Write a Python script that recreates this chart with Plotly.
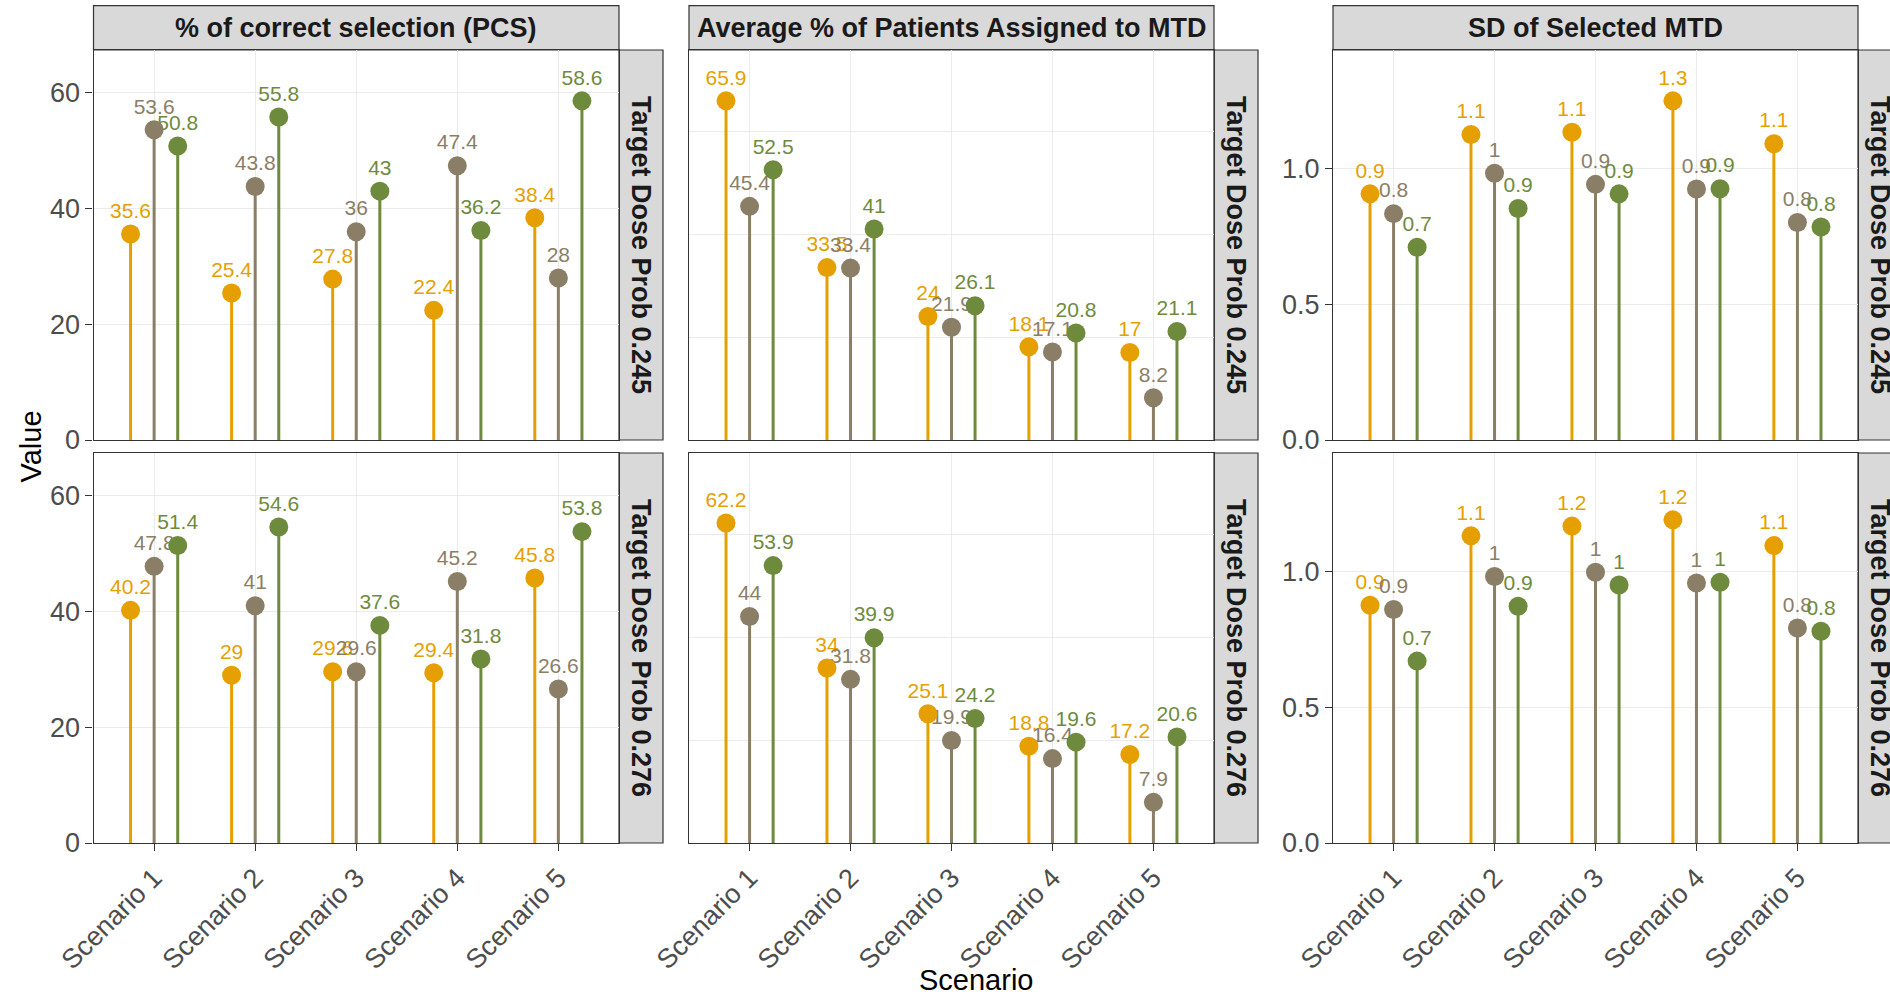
import plotly.graph_objects as go

# ---------------- data ----------------
scenarios = ["Scenario 1", "Scenario 2", "Scenario 3", "Scenario 4", "Scenario 5"]
designs = ["Design A", "Design B", "Design C"]
design_colors = ["#E69F00", "#8B7E66", "#6E8B3D"]

metrics = ["% of correct selection (PCS)",
           "Average % of Patients Assigned to MTD",
           "SD of Selected MTD"]
targets = ["Target Dose Prob 0.245", "Target Dose Prob 0.276"]

# % of correct selection, per design (rows: target 0.245, 0.276)
pcs_a_245 = [35.6, 25.4, 27.8, 22.4, 38.4]
pcs_b_245 = [53.6, 43.8, 36.0, 47.4, 28.0]
pcs_c_245 = [50.8, 55.8, 43.0, 36.2, 58.6]
pcs_a_276 = [40.2, 29.0, 29.6, 29.4, 45.8]
pcs_b_276 = [47.8, 41.0, 29.6, 45.2, 26.6]
pcs_c_276 = [51.4, 54.6, 37.6, 31.8, 53.8]

# average % of patients assigned to the MTD
pat_a_245 = [65.9, 33.5, 24.0, 18.1, 17.0]
pat_b_245 = [45.4, 33.4, 21.9, 17.1, 8.2]
pat_c_245 = [52.5, 41.0, 26.1, 20.8, 21.1]
pat_a_276 = [62.2, 34.0, 25.1, 18.8, 17.2]
pat_b_276 = [44.0, 31.8, 19.9, 16.4, 7.9]
pat_c_276 = [53.9, 39.9, 24.2, 19.6, 20.6]

# SD of the selected MTD
sd_a_245 = [0.908, 1.127, 1.135, 1.251, 1.093]
sd_b_245 = [0.835, 0.984, 0.943, 0.926, 0.802]
sd_c_245 = [0.711, 0.854, 0.908, 0.927, 0.786]
sd_a_276 = [0.877, 1.133, 1.169, 1.192, 1.097]
sd_b_276 = [0.861, 0.983, 0.999, 0.959, 0.793]
sd_c_276 = [0.671, 0.873, 0.952, 0.962, 0.781]

panels = [
    [[pcs_a_245, pcs_b_245, pcs_c_245], [pat_a_245, pat_b_245, pat_c_245], [sd_a_245, sd_b_245, sd_c_245]],
    [[pcs_a_276, pcs_b_276, pcs_c_276], [pat_a_276, pat_b_276, pat_c_276], [sd_a_276, sd_b_276, sd_c_276]],
]

col_ticks = [[0, 20, 40, 60], [0, 20, 40, 60], [0.0, 0.5, 1.0]]
col_ticktext = [["0", "20", "40", "60"], None, ["0.0", "0.5", "1.0"]]

# ---------------- layout geometry (pixels) ----------------
W, H = 1890, 996
col_px = [(93.5, 619), (689, 1214), (1333, 1858)]
row_px = [(50, 440), (453, 843)]
strip_w = 44
strip_top = 5.7

FONT = "Liberation Sans"
DODGE = 0.7
GRID = "#EBEBEB"
FRAME = "#333333"
TICK_SIZE = 27
STRIP_SIZE = 27
LABEL_SIZE = 21
TITLE_SIZE = 29


def px_x(p):
    return p / W


def px_y(p):
    return 1 - p / H


def fmt(v):
    return f"{round(v, 1):g}"


fig = go.Figure()

n_designs = len(designs)
offsets = [(k - (n_designs - 1) / 2) * DODGE / n_designs for k in range(n_designs)]
cat_pos = list(range(1, len(scenarios) + 1))

for r in range(2):
    for c in range(3):
        idx = r * 3 + c + 1
        xa = "x" if idx == 1 else f"x{idx}"
        ya = "y" if idx == 1 else f"y{idx}"
        series = panels[r][c]
        # stems
        for k, vals in enumerate(series):
            xs, ys = [], []
            for i, v in enumerate(vals):
                xp = cat_pos[i] + offsets[k]
                xs += [xp, xp, None]
                ys += [0, v, None]
            fig.add_trace(go.Scatter(x=xs, y=ys, mode="lines", xaxis=xa, yaxis=ya,
                                     line=dict(color=design_colors[k], width=3),
                                     showlegend=False, hoverinfo="skip", cliponaxis=False))
        # value labels
        for k, vals in enumerate(series):
            xs = [cat_pos[i] + offsets[k] for i in range(len(vals))]
            fig.add_trace(go.Scatter(x=xs, y=vals, mode="markers+text", xaxis=xa, yaxis=ya,
                                     text=[fmt(v) for v in vals], textposition="top center",
                                     textfont=dict(family=FONT, size=LABEL_SIZE, color=design_colors[k]),
                                     marker=dict(size=16, opacity=0),
                                     showlegend=False, hoverinfo="skip", cliponaxis=False))
        # points
        for k, vals in enumerate(series):
            xs = [cat_pos[i] + offsets[k] for i in range(len(vals))]
            fig.add_trace(go.Scatter(x=xs, y=vals, mode="markers", xaxis=xa, yaxis=ya,
                                     marker=dict(size=19, color=design_colors[k], line=dict(width=0)),
                                     name=designs[k], showlegend=False, hoverinfo="skip",
                                     cliponaxis=False))

layout = dict(
    width=W, height=H, margin=dict(l=0, r=0, t=0, b=0, autoexpand=False),
    paper_bgcolor="white", plot_bgcolor="white",
    showlegend=False, hovermode=False,
    font=dict(family=FONT, color="#4D4D4D"),
)

for r in range(2):
    for c in range(3):
        idx = r * 3 + c + 1
        xkey = "xaxis" if idx == 1 else f"xaxis{idx}"
        ykey = "yaxis" if idx == 1 else f"yaxis{idx}"
        ya_name = "y" if idx == 1 else f"y{idx}"
        xa_name = "x" if idx == 1 else f"x{idx}"
        col_max = max(max(max(s) for s in panels[rr][c]) for rr in range(2))
        bottom = r == 1
        layout[xkey] = dict(
            domain=[px_x(col_px[c][0]), px_x(col_px[c][1])],
            anchor=ya_name, range=[0.4, len(scenarios) + 0.6],
            tickmode="array", tickvals=cat_pos, ticktext=scenarios,
            showticklabels=bottom, ticks="outside" if bottom else "",
            ticklen=7, tickwidth=1.2, tickcolor=FRAME, tickangle=-45,
            tickfont=dict(family=FONT, size=TICK_SIZE, color="#4D4D4D"),
            showgrid=True, gridcolor=GRID, gridwidth=1.2,
            showline=True, linecolor=FRAME, linewidth=1.2, mirror=True,
            zeroline=False, fixedrange=True, automargin=False,
        )
        show_y = col_ticktext[c] is not None
        ydict = dict(
            domain=[px_y(row_px[r][1]), px_y(row_px[r][0])],
            anchor=xa_name, range=[0, col_max * 1.15],
            tickmode="array", tickvals=col_ticks[c],
            showticklabels=show_y, ticks="outside" if show_y else "",
            ticklen=7, tickwidth=1.2, tickcolor=FRAME,
            tickfont=dict(family=FONT, size=TICK_SIZE, color="#4D4D4D"),
            showgrid=True, gridcolor=GRID, gridwidth=1.2,
            showline=True, linecolor=FRAME, linewidth=1.2, mirror=True,
            zeroline=False, fixedrange=True, automargin=False,
        )
        if show_y:
            ydict["ticktext"] = col_ticktext[c]
        layout[ykey] = ydict

shapes = []
annotations = []
# column strips
for c in range(3):
    x0, x1 = col_px[c]
    shapes.append(dict(type="rect", xref="paper", yref="paper",
                       x0=px_x(x0), x1=px_x(x1), y0=px_y(row_px[0][0]), y1=px_y(strip_top),
                       fillcolor="#D9D9D9", line=dict(color=FRAME, width=1.2), layer="below"))
    annotations.append(dict(xref="paper", yref="paper", x=px_x((x0 + x1) / 2),
                            y=px_y((strip_top + row_px[0][0]) / 2), text=f"<b>{metrics[c]}</b>",
                            showarrow=False, xanchor="center", yanchor="middle",
                            font=dict(family=FONT, size=STRIP_SIZE, color="#1A1A1A")))
    # row strips to the right of each column
    for r in range(2):
        y0, y1 = row_px[r]
        shapes.append(dict(type="rect", xref="paper", yref="paper",
                           x0=px_x(x1), x1=px_x(x1 + strip_w), y0=px_y(y1), y1=px_y(y0),
                           fillcolor="#D9D9D9", line=dict(color=FRAME, width=1.2), layer="below"))
        annotations.append(dict(xref="paper", yref="paper", x=px_x(x1 + strip_w / 2),
                                y=px_y((y0 + y1) / 2), text=f"<b>{targets[r]}</b>",
                                showarrow=False, textangle=90, xanchor="center", yanchor="middle",
                                font=dict(family=FONT, size=STRIP_SIZE, color="#1A1A1A")))

# axis titles
annotations.append(dict(xref="paper", yref="paper", x=px_x((col_px[0][0] + col_px[2][1]) / 2),
                        y=px_y(980), text="Scenario", showarrow=False,
                        xanchor="center", yanchor="middle",
                        font=dict(family=FONT, size=TITLE_SIZE, color="#000000")))
annotations.append(dict(xref="paper", yref="paper", x=px_x(30),
                        y=px_y((row_px[0][0] + row_px[1][1]) / 2), text="Value", showarrow=False,
                        textangle=-90, xanchor="center", yanchor="middle",
                        font=dict(family=FONT, size=TITLE_SIZE, color="#000000")))

layout["shapes"] = shapes
layout["annotations"] = annotations
fig.update_layout(**layout)

fig.write_html("out.html", config={"displayModeBar": False})
